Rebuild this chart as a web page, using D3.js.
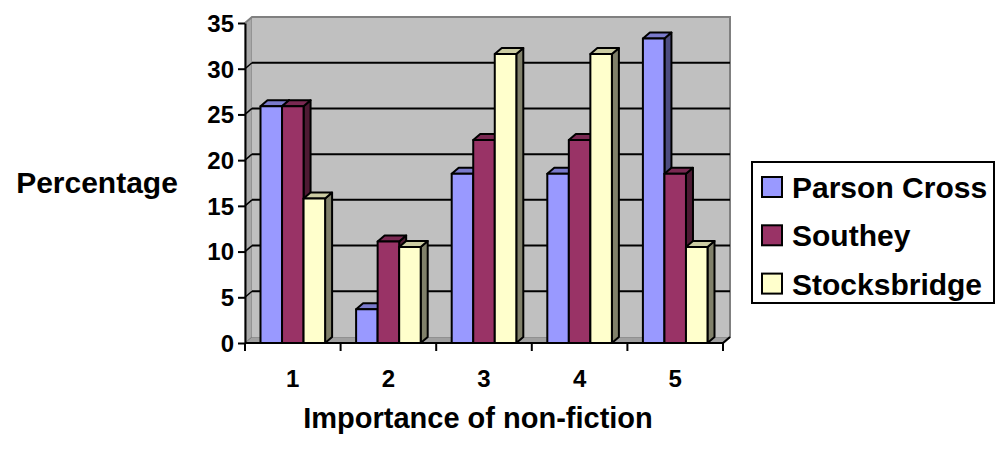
<!DOCTYPE html>
<html>
<head>
<meta charset="utf-8">
<script src="https://cdn.jsdelivr.net/npm/d3@7"></script>
<style>
  html, body { margin: 0; padding: 0; background: #fff; }
  svg { display: block; font-family: "Liberation Sans", Arial, sans-serif; font-weight: bold; }
</style>
</head>
<body>
<svg id="chart" width="998" height="451"></svg>
<script>
// Survey data: share of respondents (%) rating the importance of non-fiction, by library
const categories = ["1", "2", "3", "4", "5"];
const seriesNames = ["Parson Cross", "Southey", "Stocksbridge"];
const parsonCross = [25.9, 3.7, 18.5, 18.5, 33.3];
const southey = [25.9, 11.1, 22.2, 22.2, 18.5];
const stocksbridge = [15.8, 10.5, 31.6, 31.6, 10.5];
const yTicks = [0, 5, 10, 15, 20, 25, 30, 35];

const seriesValues = [parsonCross, southey, stocksbridge];
const frontColors = ["#9999FF", "#993366", "#FFFFCC"];
const topColors = ["#7A7ACC", "#7A2952", "#CCCCA3"];
const sideColors = ["#4D4D80", "#4D1A33", "#80806A"];

const svg = d3.select("#chart");

// Front plane of the plot box and the depth offset of the 3-D projection
const plotLeft = 245, plotRight = 723, plotBottom = 343, plotTop = 23;
const dx = 7, dy = -6;

const y = d3.scaleLinear().domain([0, 35]).range([plotBottom, plotTop]);
const x0 = d3.scaleBand().domain(categories).range([plotLeft, plotRight]).padding(0);
const x1 = d3.scaleBand().domain(seriesNames).range([0, x0.bandwidth()])
  .paddingInner(0).paddingOuter(0.72);

const pts = a => a.map(p => p.join(",")).join(" ");

// Left side wall
svg.append("polygon")
  .attr("points", pts([[plotLeft, plotBottom], [plotLeft, y(35)], [plotLeft + dx, y(35) + dy], [plotLeft + dx, plotBottom + dy]]))
  .attr("fill", "#A8A8A8").attr("stroke", "#808080").attr("stroke-width", 1);

// Floor
svg.append("polygon")
  .attr("points", pts([[plotLeft, plotBottom], [plotRight, plotBottom], [plotRight + dx, plotBottom + dy], [plotLeft + dx, plotBottom + dy]]))
  .attr("fill", "#A0A0A0").attr("stroke", "#808080").attr("stroke-width", 1);

// Back wall
svg.append("rect")
  .attr("x", plotLeft + dx).attr("y", y(35) + dy)
  .attr("width", plotRight - plotLeft).attr("height", plotBottom - y(35))
  .attr("fill", "#C0C0C0");
svg.append("polyline")
  .attr("points", pts([[plotLeft, y(35)], [plotLeft + dx, y(35) + dy], [plotRight + dx, y(35) + dy], [plotRight + dx, plotBottom + dy], [plotRight, plotBottom]]))
  .attr("fill", "none").attr("stroke", "#808080").attr("stroke-width", 2);

// Gridlines across the back wall, with their short runs on the side wall
const grid = svg.append("g");
yTicks.filter(t => t > 0 && t < 35).forEach(t => {
  grid.append("line")
    .attr("x1", plotLeft + dx).attr("x2", plotRight + dx)
    .attr("y1", y(t) + dy).attr("y2", y(t) + dy)
    .attr("stroke", "#000").attr("stroke-width", 2);
  grid.append("line")
    .attr("x1", plotLeft).attr("x2", plotLeft + dx)
    .attr("y1", y(t)).attr("y2", y(t) + dy)
    .attr("stroke", "#000").attr("stroke-width", 1.5);
});

// Bars: right side face, top face and front face, drawn left to right
const bars = svg.append("g");
categories.forEach((c, ci) => {
  seriesNames.forEach((s, si) => {
    const v = seriesValues[si][ci];
    const xa = x0(c) + x1(s);
    const xb = xa + x1.bandwidth();
    const yt = y(v), yb = y(0);
    const g = bars.append("g")
      .attr("stroke", "#000").attr("stroke-width", 2).attr("stroke-linejoin", "round");
    g.append("polygon")
      .attr("points", pts([[xb, yt], [xb + dx, yt + dy], [xb + dx, yb + dy], [xb, yb]]))
      .attr("fill", sideColors[si]);
    g.append("polygon")
      .attr("points", pts([[xa, yt], [xa + dx, yt + dy], [xb + dx, yt + dy], [xb, yt]]))
      .attr("fill", topColors[si]);
    g.append("rect")
      .attr("x", xa).attr("y", yt)
      .attr("width", xb - xa).attr("height", yb - yt)
      .attr("fill", frontColors[si]);
  });
});

// Y axis
const yAxisG = svg.append("g").attr("transform", `translate(${plotLeft},0)`)
  .call(d3.axisLeft(y).tickValues(yTicks).tickSize(7).tickSizeOuter(0).tickPadding(4));
yAxisG.select(".domain").attr("stroke", "#000").attr("stroke-width", 2);
yAxisG.selectAll(".tick line").attr("stroke", "#000").attr("stroke-width", 2);
yAxisG.selectAll(".tick text")
  .attr("font-family", "Liberation Sans, Arial, sans-serif")
  .attr("font-weight", "bold").attr("font-size", 24).attr("fill", "#000")
  .attr("dy", "0.35em");

// X axis: tick marks on the category boundaries, labels centred in each band
const boundaries = d3.range(categories.length + 1).map(i => plotLeft + i * x0.step());
const xAxisG = svg.append("g");
xAxisG.append("line")
  .attr("x1", plotLeft).attr("x2", plotRight).attr("y1", plotBottom).attr("y2", plotBottom)
  .attr("stroke", "#000").attr("stroke-width", 2);
xAxisG.append("line")
  .attr("x1", plotRight).attr("x2", plotRight + dx).attr("y1", plotBottom).attr("y2", plotBottom + dy)
  .attr("stroke", "#000").attr("stroke-width", 2);
boundaries.forEach(bx => {
  xAxisG.append("line")
    .attr("x1", bx).attr("x2", bx).attr("y1", plotBottom).attr("y2", plotBottom + 8)
    .attr("stroke", "#000").attr("stroke-width", 2);
});
xAxisG.selectAll("text.cat").data(categories).enter().append("text")
  .attr("class", "cat")
  .attr("x", d => x0(d) + x0.bandwidth() / 2)
  .attr("y", 387)
  .attr("text-anchor", "middle")
  .attr("font-size", 24)
  .text(d => d);

// Axis titles
svg.append("text")
  .attr("x", 97).attr("y", 193)
  .attr("text-anchor", "middle").attr("font-size", 30)
  .text("Percentage");
svg.append("text")
  .attr("x", 478).attr("y", 428)
  .attr("text-anchor", "middle").attr("font-size", 29)
  .text("Importance of non-fiction");

// Legend
const legend = svg.append("g");
legend.append("rect")
  .attr("x", 752).attr("y", 162).attr("width", 242).attr("height", 141)
  .attr("fill", "#fff").attr("stroke", "#000").attr("stroke-width", 2);
seriesNames.forEach((s, i) => {
  const cy = 187 + i * 48.3;
  legend.append("rect")
    .attr("x", 762).attr("y", cy - 10).attr("width", 20).attr("height", 20)
    .attr("fill", frontColors[i]).attr("stroke", "#000").attr("stroke-width", 2);
  legend.append("text")
    .attr("x", 792).attr("y", cy + 11)
    .attr("font-size", 30)
    .text(s);
});
</script>
</body>
</html>
